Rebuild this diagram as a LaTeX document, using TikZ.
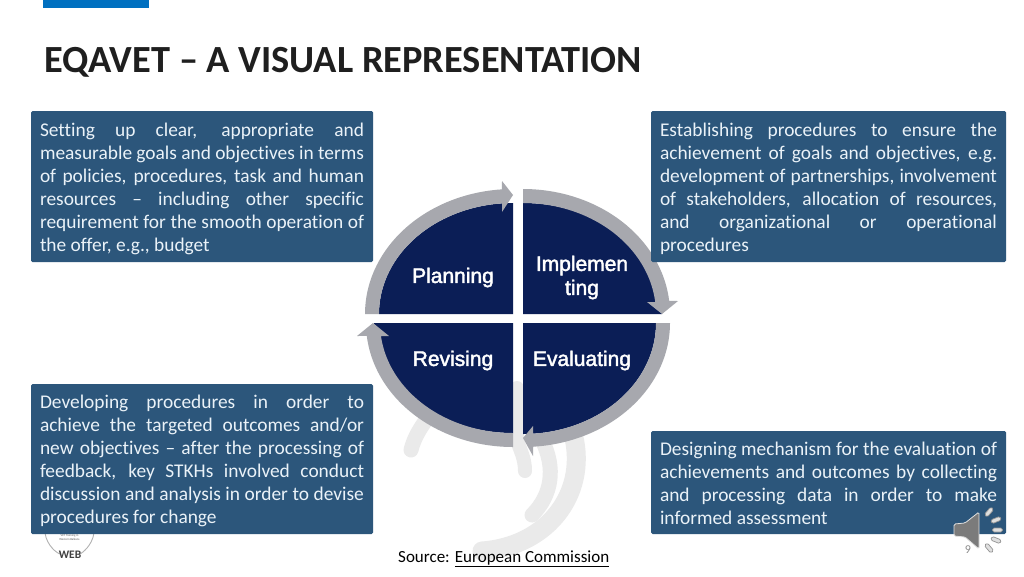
\documentclass[tikz,border=0pt]{standalone}
\usepackage{fontspec}
\setmainfont[Ligatures=NoCommon]{Carlito}
\newfontfamily\qfont[FakeBold=2]{Liberation Sans}
\definecolor{boxblue}{HTML}{2C567B}
\definecolor{navy}{HTML}{0B1E56}
\definecolor{ring}{HTML}{A7A8AE}
\definecolor{mark}{HTML}{EAEAEA}
\definecolor{topbar}{HTML}{0070C0}
\definecolor{boxtext}{HTML}{EAF2F8}
\definecolor{titletext}{HTML}{1F1F1F}
\newcommand{\topstrut}{\rule{0pt}{18pt}}
\tikzset{
  infobox/.style={fill=boxblue,rounded corners=1.5pt,text=boxtext,inner xsep=9pt,inner ysep=0pt,
    align=justify,font=\fontsize{19.4}{23}\selectfont},
  quad/.style={text=white,align=center,font=\qfont\fontsize{21}{24}\selectfont},
  wm/.style={draw=mark,line cap=round,fill=none},
  tick/.style={draw=gray!85,fill=gray!25,line width=.7pt,rounded corners=1.6pt},
}
\begin{document}
\begin{tikzpicture}[x=1pt,y=-1pt]
\useasboundingbox (0,0) rectangle (1024,576);
\fill[white] (0,0) rectangle (1024,576);
% top bar
\fill[topbar] (43,0) rectangle (149,8);
% title
\node[anchor=base west,inner sep=0pt,text=titletext,font=\bfseries\fontsize{38.4}{40}\selectfont] (title) at (44,72) {EQAVET – A VISUAL REPRESENTATION};
% watermark
\draw[wm,line width=15pt] (411,450) .. controls (414,438) and (420,428) .. (429,416);
\draw[wm,line width=14pt] (517,388) -- (517,440) .. controls (520,450) and (525,458) .. (525,471);
\draw[wm,line width=15pt] (542,440) .. controls (556,468) and (552,495) .. (532,515);
\draw[wm,line width=19pt] (572,430) .. controls (590,490) and (550,546) .. (482,551);
% logo
\draw[gray!60,line width=.9pt] (45,533) .. controls (47,546) and (57,553) .. (60,554);
\draw[gray!60,line width=.9pt] (94,533) .. controls (92,546) and (82,553) .. (80,554);
\node[inner sep=0pt,align=center,text=black!65,font=\fontsize{3}{4}\selectfont] (logotext) at (69.5,537) {VET Training in\\Western Balkans};
\node[inner sep=0pt,text=black!75,font=\bfseries\fontsize{11.5}{12}\selectfont] (logoweb) at (70,555) {WEB};
% navy quadrants
\fill[navy] (513,314) -- plot[domain=180:90,samples=50] ({513+134*cos(\x)},{314-111*sin(\x)}) -- cycle;
\fill[navy] (523,314) -- plot[domain=90:0,samples=50] ({523+139*cos(\x)},{314-111*sin(\x)}) -- cycle;
\fill[navy] (523,323) -- plot[domain=0:-90,samples=50] ({523+133*cos(\x)},{323-111*sin(\x)}) -- cycle;
\fill[navy] (513,323) -- plot[domain=270:180,samples=50] ({513+139*cos(\x)},{323-110*sin(\x)}) -- cycle;
% ring arrows
\fill[ring] plot[domain=180:94.3,samples=50] ({513+148*cos(\x)},{314-125*sin(\x)}) -- (502,181) -- (513,195) -- (502,212) -- (502,203)
  -- plot[domain=94.7:180,samples=50] ({513+134*cos(\x)},{314-111*sin(\x)}) -- cycle;
\fill[ring] plot[domain=90:6,samples=50] ({523+147*cos(\x)},{314-125*sin(\x)}) -- (678,301) -- (662,314) -- (647,302) -- (655,302)
  -- plot[domain=6.2:90,samples=50] ({523+133*cos(\x)},{314-111*sin(\x)}) -- cycle;
\fill[ring] plot[domain=0:-86,samples=50] ({523+147*cos(\x)},{323-124*sin(\x)}) -- (533,456) -- (523,438) -- (533,426) -- (533,434)
  -- plot[domain=-85.7:0,samples=50] ({523+133*cos(\x)},{323-111*sin(\x)}) -- cycle;
\fill[ring] plot[domain=270:186,samples=50] ({513+147*cos(\x)},{323-124*sin(\x)}) -- (357,336) -- (373,323) -- (389,336) -- (381,336)
  -- plot[domain=186.7:270,samples=50] ({513+133*cos(\x)},{323-110*sin(\x)}) -- cycle;
% quadrant labels
\node[quad] (planning) at (453,277.5) {Planning};
\node[quad] (implementing) at (582,277.5) {Implemen\\ting};
\node[quad] (revising) at (453,360.5) {Revising};
\node[quad] (evaluating) at (582,360.5) {Evaluating};
% info boxes
\node[infobox,text width=324pt,minimum height=151pt] (tl) at (202,186.5) {\topstrut Setting up clear, appropriate and\linebreak measurable goals and objectives in terms\linebreak of policies, procedures, task and human\linebreak resources – including other specific\linebreak requirement for the smooth operation of\linebreak the offer, e.g., budget};
\node[infobox,text width=337pt,minimum height=151pt] (tr) at (828.5,186.5) {\topstrut Establishing procedures to ensure the\linebreak achievement of goals and objectives, e.g.\linebreak development of partnerships, involvement\linebreak of stakeholders, allocation of resources,\linebreak and organizational or operational\linebreak procedures};
\node[infobox,text width=324pt,minimum height=150pt] (bl) at (202,459) {\topstrut Developing procedures in order to\linebreak achieve the targeted outcomes and/or\linebreak new objectives – after the processing of\linebreak feedback, key STKHs involved conduct\linebreak discussion and analysis in order to devise\linebreak procedures for change};
\node[infobox,text width=337pt,minimum height=103pt] (br) at (828.5,482.5) {\rule{0pt}{15.5pt}Designing mechanism for the evaluation of\linebreak achievements and outcomes by collecting\linebreak and processing data in order to make\linebreak informed assessment};
% source
\node[anchor=base west,inner sep=0pt,text=black,font=\fontsize{17}{20}\selectfont] (source) at (398,562) {Source: \underline{European Commission}};
% page number
\node[inner sep=0pt,text=gray!90,font=\fontsize{12}{14}\selectfont] (page) at (968,550) {9};
% speaker icon
\fill[gray!85!black!90,draw=gray!25,line width=.8pt,rounded corners=1.5pt] (954,524) -- (965,523) -- (979,512) -- (979,549) -- (965,537) -- (954,536) -- cycle;
\foreach \cx/\cy/\ang in {989/512/50,996/520/22,997.5/530/0,996/540/-22,989/548/-50}
  \draw[tick,rotate around={\ang:(\cx,\cy)}] (\cx-5,\cy-2) rectangle (\cx+5,\cy+2);
\end{tikzpicture}
\end{document}
